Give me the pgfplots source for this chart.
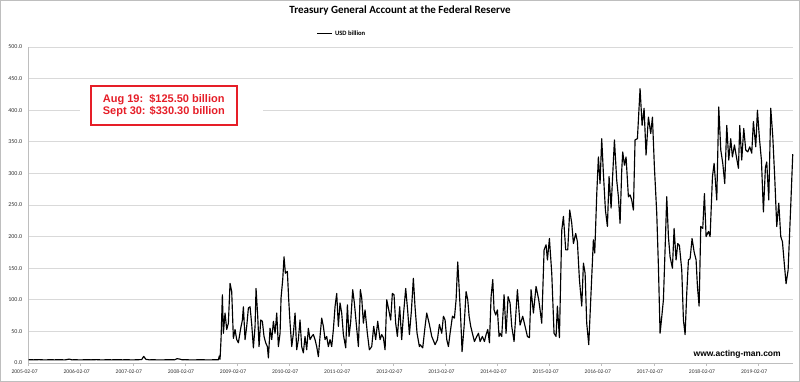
\documentclass[border=0pt]{standalone}
\usepackage{pgfplots}
\pgfplotsset{compat=1.18}
\usepackage{pgfplotstable}
\usepackage{fontspec}
\setmainfont{Carlito}
\newfontfamily\arial{Liberation Sans}
\definecolor{gridgray}{RGB}{217,217,217}
\definecolor{axgray}{RGB}{190,190,190}
\definecolor{boxred}{RGB}{230,30,40}

\pgfplotstableread{
t v
2005.10 5.2
2005.20 5.0
2005.30 5.3
2005.40 4.9
2005.50 5.1
2005.60 5.0
2005.70 5.2
2005.80 4.9
2005.88 6.2
2005.93 5.0
2006.00 5.1
2006.10 4.9
2006.20 5.2
2006.30 5.0
2006.40 5.3
2006.50 4.9
2006.60 5.1
2006.70 5.0
2006.80 5.2
2006.90 5.0
2007.00 5.1
2007.10 4.9
2007.20 5.2
2007.27 5.4
2007.31 10.5
2007.35 5.8
2007.42 5.0
2007.50 5.1
2007.60 4.9
2007.70 5.0
2007.80 5.2
2007.90 5.0
2007.95 6.8
2008.00 6.2
2008.05 5.0
2008.10 5.3
2008.20 4.9
2008.30 5.0
2008.40 5.1
2008.50 5.0
2008.60 5.0
2008.70 5.1
2008.742 5.0
2008.760 11.0
2008.774 6.0
2008.793 37
2008.819 108
2008.838 47
2008.870 79
2008.902 53
2008.934 63
2008.966 126
2008.998 113
2009.030 39
2009.062 53
2009.094 37
2009.126 32
2009.171 55
2009.203 68
2009.222 89
2009.254 37
2009.286 58
2009.318 87
2009.350 89
2009.382 61
2009.414 24
2009.446 58
2009.465 118
2009.497 74
2009.523 26
2009.555 68
2009.586 66
2009.618 42
2009.650 32
2009.682 26
2009.702 8
2009.734 55
2009.766 37
2009.798 66
2009.830 47
2009.862 79
2009.894 26
2009.926 47
2009.945 103
2009.977 132
2010.002 168
2010.028 142
2010.066 145
2010.092 100
2010.118 63
2010.150 26
2010.182 47
2010.214 79
2010.245 21
2010.277 37
2010.309 68
2010.341 26
2010.373 16
2010.405 42
2010.437 21
2010.469 55
2010.501 37
2010.533 42
2010.565 45
2010.597 37
2010.629 26
2010.661 10
2010.693 42
2010.725 71
2010.757 58
2010.789 37
2010.821 42
2010.853 26
2010.885 37
2010.917 26
2010.949 53
2010.981 89
2011.013 110
2011.045 58
2011.077 95
2011.109 79
2011.141 45
2011.186 24
2011.218 92
2011.250 42
2011.282 66
2011.320 116
2011.352 95
2011.384 66
2011.429 26
2011.467 116
2011.493 103
2011.525 63
2011.557 84
2011.601 47
2011.640 21
2011.685 26
2011.723 58
2011.761 37
2011.800 66
2011.845 37
2011.877 45
2011.909 40
2011.941 21
2011.973 100
2012.005 87
2012.049 68
2012.081 110
2012.113 108
2012.145 63
2012.177 42
2012.222 89
2012.260 37
2012.292 74
2012.337 118
2012.376 82
2012.408 45
2012.446 82
2012.484 134
2012.516 89
2012.555 47
2012.600 26
2012.613 29
2012.664 24
2012.709 58
2012.741 79
2012.792 61
2012.837 42
2012.901 29
2012.946 37
2012.984 61
2013.029 47
2013.061 74
2013.093 68
2013.125 37
2013.157 26
2013.189 47
2013.234 74
2013.272 71
2013.304 100
2013.336 160
2013.368 110
2013.394 68
2013.419 18
2013.458 58
2013.496 113
2013.528 100
2013.554 74
2013.585 58
2013.617 47
2013.656 34
2013.701 42
2013.733 47
2013.765 34
2013.809 42
2013.848 34
2013.880 45
2013.912 53
2013.944 32
2013.976 105
2014.008 132
2014.033 84
2014.065 76
2014.097 84
2014.129 42
2014.148 47
2014.180 42
2014.225 108
2014.263 47
2014.302 105
2014.340 95
2014.372 58
2014.417 34
2014.481 116
2014.532 60
2014.583 74
2014.628 58
2014.673 42
2014.711 40
2014.743 116
2014.788 79
2014.839 121
2014.890 100
2014.916 84
2014.948 63
2014.993 179
2015.031 187
2015.057 163
2015.095 197
2015.140 142
2015.184 47
2015.223 42
2015.248 90
2015.287 40
2015.332 210
2015.364 232
2015.408 179
2015.447 179
2015.485 242
2015.524 221
2015.556 189
2015.600 205
2015.632 192
2015.671 132
2015.716 90
2015.748 158
2015.780 142
2015.811 63
2015.850 29
2015.888 100
2015.939 195
2015.965 174
2016.004 268
2016.035 326
2016.067 284
2016.099 355
2016.131 300
2016.170 242
2016.208 216
2016.240 295
2016.279 245
2016.311 300
2016.343 353
2016.387 289
2016.419 263
2016.451 221
2016.483 305
2016.502 334
2016.535 313
2016.566 326
2016.611 263
2016.643 266
2016.675 258
2016.707 242
2016.739 353
2016.784 355
2016.835 434
2016.874 376
2016.912 403
2016.950 329
2016.995 389
2017.040 363
2017.072 389
2017.110 310
2017.155 237
2017.187 153
2017.219 47
2017.245 68
2017.283 100
2017.321 195
2017.347 263
2017.379 200
2017.411 168
2017.456 150
2017.488 213
2017.526 163
2017.558 189
2017.590 186
2017.635 147
2017.667 68
2017.699 45
2017.731 111
2017.763 163
2017.795 165
2017.833 197
2017.872 176
2017.910 163
2017.936 121
2017.968 90
2018.000 216
2018.038 213
2018.070 268
2018.102 200
2018.147 208
2018.179 200
2018.224 295
2018.256 316
2018.307 258
2018.345 405
2018.384 337
2018.422 316
2018.460 284
2018.499 376
2018.537 321
2018.575 355
2018.607 326
2018.646 345
2018.684 326
2018.723 308
2018.748 376
2018.786 321
2018.825 371
2018.863 337
2018.902 334
2018.940 342
2018.978 332
2019.010 382
2019.055 342
2019.087 400
2019.126 355
2019.164 321
2019.202 239
2019.241 310
2019.266 318
2019.305 258
2019.343 403
2019.382 358
2019.420 292
2019.458 216
2019.497 253
2019.535 200
2019.567 192
2019.605 155
2019.637 125.5
2019.676 147
2019.727 250
2019.765 330.3
}\tga

\begin{document}
\begin{tikzpicture}
\useasboundingbox (-28.6pt,-19pt) rectangle (771.4pt,363pt);
\begin{axis}[
  at={(0pt,0pt)}, anchor=south west,
  scale only axis, width=764.4pt, height=316pt,
  xmin=2005.1, xmax=2019.77, ymin=0, ymax=500,
  axis x line*=bottom, axis y line*=left,
  axis line style={axgray, line width=0.8pt, -},
  ytick={0,50,...,500},
  yticklabel={\pgfmathprintnumber[fixed,fixed zerofill,precision=1,assume math mode=true]{\tick}},
  xtick={2005.1,2006.1,2007.1,2008.1,2009.1,2010.1,2011.1,2012.1,2013.1,2014.1,2015.1,2016.1,2017.1,2018.1,2019.1},
  xticklabels={2005-02-07,2006-02-07,2007-02-07,2008-02-07,2009-02-07,2010-02-07,2011-02-07,2012-02-07,2013-02-07,2014-02-07,2015-02-07,2016-02-07,2017-02-07,2018-02-07,2019-02-07},
  x tick label style={font=\fontsize{5.6}{6.5}\selectfont, xshift=-4pt, color=black!80},
  y tick label style={font=\fontsize{6}{7}\selectfont, color=black!80},
  xtick style={axgray, line width=0.6pt},
  ytick style={draw=none},
  major tick length=3pt,
  tick align=outside,
  ymajorgrids, grid style={gridgray, line width=0.9pt},
  title={\textbf{Treasury General Account at the Federal Reserve}},
  title style={font=\fontsize{11}{13}\selectfont, at={(0.486,1)}, anchor=base, yshift=27pt},
  legend style={draw=none, fill=none, at={(0.41,1)}, anchor=south, yshift=6pt,
    font=\bfseries\fontsize{6.6}{7.5}\selectfont},
  legend image code/.code={\draw[black, line width=1.3pt] (0pt,0pt) -- (15pt,0pt);},
  clip=false,
]
\addplot[black, line width=1.15pt, line join=round] table[x=t, y=v] {\tga};
\addlegendentry{USD billion}
\fill[white] (rel axis cs:0.067,0.737) rectangle (rel axis cs:0.307,0.889);
\node[draw=boxred, line width=1.2pt, fill=white, minimum width=146pt, minimum height=39pt,
  align=left, text=boxred, font=\arial\bfseries\fontsize{11}{12}\selectfont, inner sep=0pt]
  at (rel axis cs:0.177,0.815) {Aug 19:\ \ \$125.50 billion\\Sept 30: \$330.30 billion};
\node[font=\arial\bfseries\fontsize{8.5}{10}\selectfont] at (rel axis cs:0.927,0.028) {www.acting-man.com};
\end{axis}
\draw[axgray, line width=0.8pt] (-28.2pt,-18.6pt) rectangle (771pt,362.6pt);
\end{tikzpicture}
\end{document}
